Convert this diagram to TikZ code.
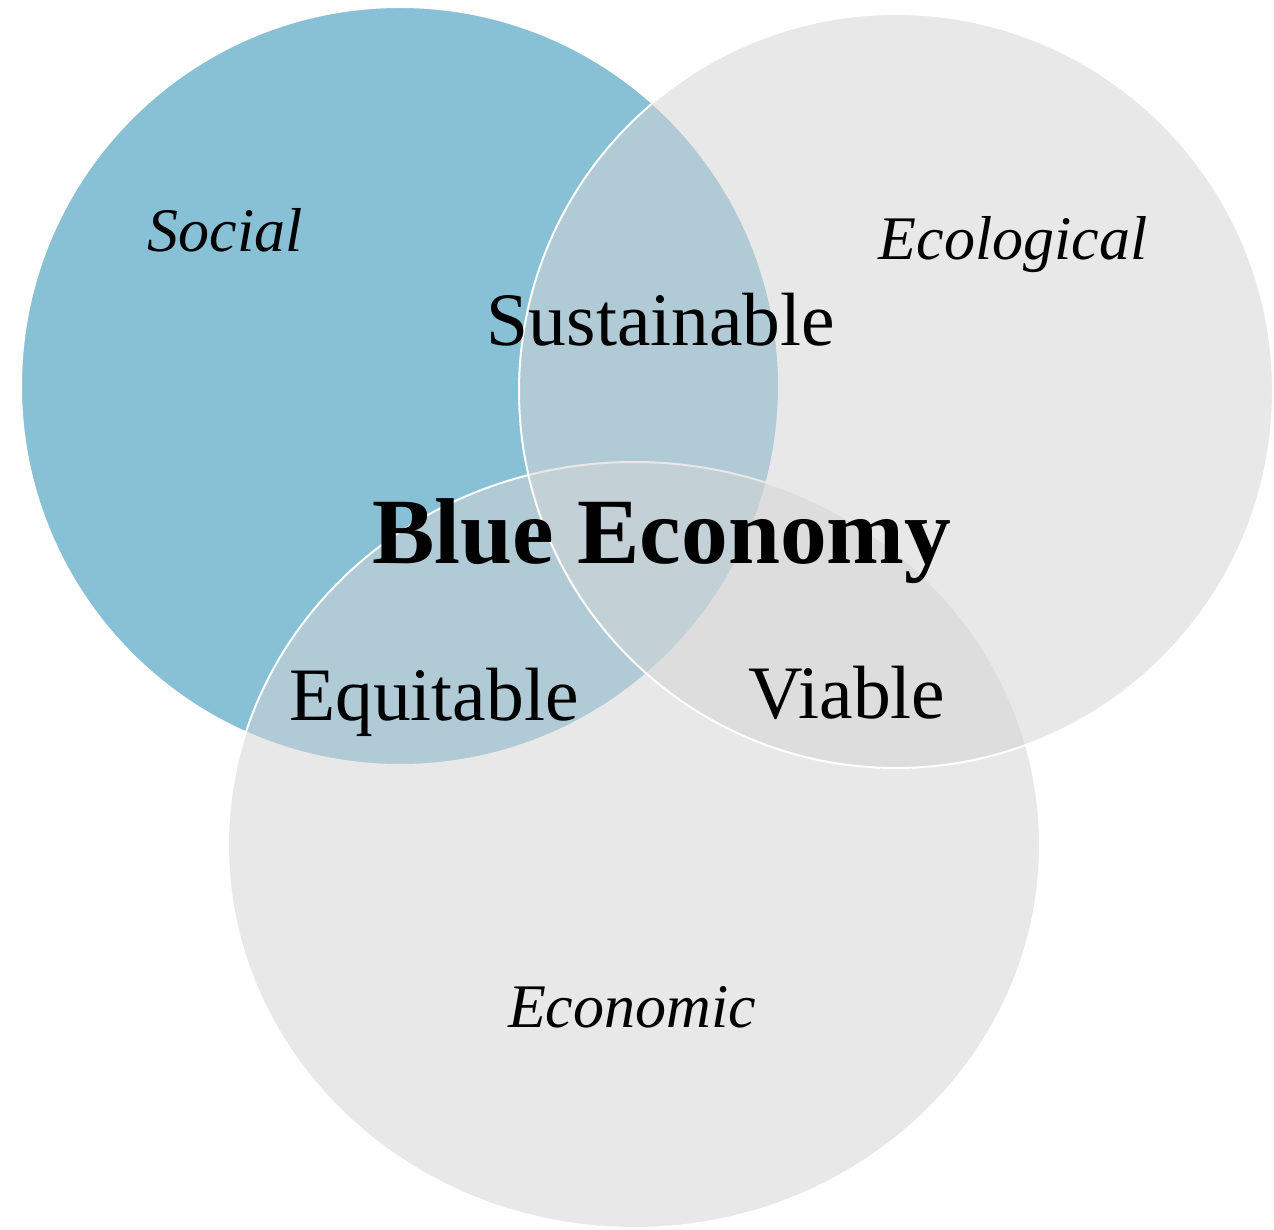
\documentclass[tikz,border=0pt]{standalone}
\usepackage{fontspec}
\setmainfont{Liberation Serif}
\definecolor{socialblue}{RGB}{136,192,214}
\definecolor{ringgray}{RGB}{213,213,213}
\begin{document}
\begin{tikzpicture}[x=1pt,y=-1pt,
  ring/.style={draw=white, line width=2pt},
  lab/.style={anchor=base, inner sep=0pt, text=black},
  italab/.style={lab, font=\fontsize{62}{70}\selectfont\itshape},
  reglab/.style={lab, font=\fontsize{75.5}{80}\selectfont},
  mainlab/.style={lab, font=\fontsize{93.5}{100}\selectfont\bfseries}
]
\useasboundingbox (0,0) rectangle (1274,1230);
\fill[white] (0,0) rectangle (1274,1230);
% circles
\path[ring, fill=socialblue] (400,386) circle[radius=379];
\path[ring, fill=ringgray, fill opacity=0.53] (634,845) ellipse[x radius=406, y radius=383];
\path[ring, fill=ringgray, fill opacity=0.53] (896,391) circle[radius=377];
% labels
\node[italab] (social) at (225,252) {Social};
\node[italab] (ecological) at (1013,260) {Ecological};
\node[italab] (economic) at (632,1027) {Economic};
\node[reglab] (sustainable) at (661,345) {Sustainable};
\node[reglab] (equitable) at (434,720) {Equitable};
\node[reglab] (viable) at (847,718) {Viable};
\node[mainlab] (blue) at (662,563) {Blue Economy};
\end{tikzpicture}
\end{document}
